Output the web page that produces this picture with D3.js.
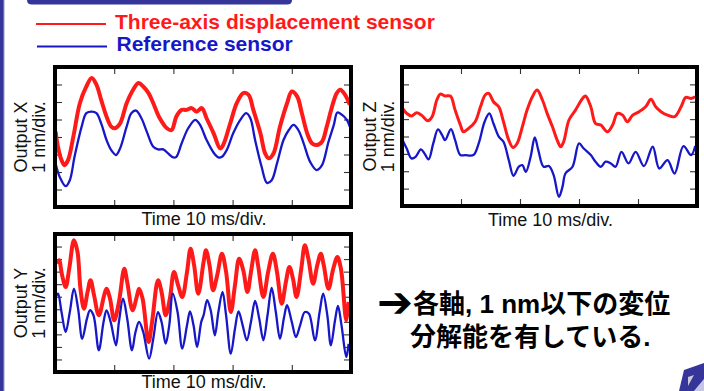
<!DOCTYPE html>
<html>
<head>
<meta charset="utf-8">
<script src="https://cdn.jsdelivr.net/npm/d3@7"></script>
<style>
  html, body { margin: 0; padding: 0; background: #fff; }
  svg { display: block; }
  .lab { font-family: "Liberation Sans", Arial, sans-serif; font-size: 18px; fill: #111; }
  .leg { font-family: "Liberation Sans", Arial, sans-serif; font-size: 21px; font-weight: bold; }
  .note { font-family: "Liberation Sans", "Noto Sans CJK JP", sans-serif; font-size: 26px; font-weight: bold; fill: #000; }
  .arrow { font-family: "DejaVu Sans", sans-serif; font-size: 43px; font-weight: bold; }
</style>
</head>
<body>
<svg id="chart" width="704" height="391"></svg>
<script>
// values: [time ms, output nm], 10 ms/div and 1 nm/div
const legendLabels = ["Three-axis displacement sensor", "Reference sensor"];
const timeLabel = "Time 10 ms/div.";
const unitLabel = "1 nm/div.";
const noteArrow = "\u2794";
const noteLines = ["各軸, 1 nm以下の変位", "分解能を有している."];

const xRed = [[0.1,4.31],[0.5,3.44],[1.1,2.68],[1.6,2.39],[2.2,2.68],[3.1,4.02],[4.2,5.93],[5.3,6.89],[6.2,7.37],[7.0,6.99],[7.8,6.12],[8.7,5.17],[9.5,4.59],[10.1,4.5],[11.0,4.78],[12.1,5.93],[13.2,6.7],[14.1,7.08],[14.9,6.89],[15.8,6.51],[16.6,5.93],[17.7,5.07],[18.9,4.5],[19.7,4.4],[20.5,5.17],[21.4,5.55],[22.2,5.55],[23.1,5.65],[23.9,5.45],[24.8,5.65],[25.6,5.07],[26.8,4.21],[27.9,3.35],[28.4,3.54],[29.6,4.78],[30.7,5.93],[31.8,6.51],[32.7,6.41],[33.5,5.55],[34.7,4.21],[35.5,3.06],[36.1,2.78],[36.9,3.06],[38.0,4.59],[39.2,5.93],[40.0,6.6],[40.9,6.32],[41.7,5.36],[42.6,4.21],[43.4,3.64],[44.2,3.54],[45.1,3.73],[45.9,4.59],[46.8,5.74],[47.6,6.51],[48.2,6.7],[49.0,6.41],[49.8,5.84]];
const xBlue = [[0.1,2.49],[0.8,1.72],[1.8,1.19],[2.5,1.53],[3.3,2.87],[4.5,4.59],[5.3,5.36],[6.2,5.45],[7.0,5.36],[7.8,4.78],[8.7,3.83],[9.5,3.25],[10.3,2.97],[11.0,3.35],[12.1,4.59],[12.9,5.36],[13.7,5.51],[14.6,5.07],[15.5,4.31],[16.6,3.44],[17.4,3.29],[18.3,3.29],[19.1,3.06],[20.0,2.83],[20.5,2.87],[21.4,3.64],[22.5,4.5],[23.7,4.98],[24.5,4.69],[25.6,3.83],[26.8,3.1],[27.6,2.83],[28.2,2.87],[29.0,3.25],[30.1,4.21],[31.3,4.98],[32.3,5.36],[33.0,5.07],[33.8,3.83],[34.9,2.3],[35.8,1.38],[36.6,1.53],[37.5,2.49],[38.6,3.83],[39.5,4.4],[40.3,4.69],[41.1,4.4],[42.0,3.64],[43.1,2.58],[44.2,2.11],[45.1,2.39],[46.2,3.73],[47.1,4.69],[47.7,5.4],[48.5,5.26],[49.3,4.98],[49.8,4.59]];

const zRed = [[0.1,5.62],[0.8,5.33],[1.6,5.18],[2.5,5.37],[3.3,5.23],[4.4,4.91],[5.1,5.14],[5.9,6.1],[6.5,6.44],[7.3,6.33],[8.2,6.33],[9.0,5.52],[9.9,4.66],[10.4,4.27],[11.3,4.47],[12.4,4.85],[13.3,5.71],[14.1,6.39],[14.7,6.48],[15.5,6.0],[16.4,5.71],[17.2,4.85],[18.1,3.79],[18.8,3.37],[19.5,3.6],[20.4,4.56],[21.2,5.52],[22.1,6.29],[22.9,6.67],[23.8,6.1],[24.6,5.33],[25.5,4.56],[26.3,3.79],[26.9,3.41],[27.4,3.7],[28.3,4.95],[29.4,5.52],[30.6,6.19],[31.1,6.33],[32.0,5.71],[32.8,4.75],[33.7,4.66],[34.8,4.27],[35.7,4.66],[36.5,5.33],[37.4,5.23],[38.2,4.85],[39.1,5.23],[40.2,5.43],[41.3,5.71],[42.2,6.14],[43.0,5.71],[43.9,5.43],[45.0,5.23],[46.2,5.14],[47.3,5.71],[48.1,6.25],[49.0,6.19],[49.7,6.29]];
const zBlue = [[0.1,3.79],[0.8,3.31],[1.6,2.74],[2.3,2.83],[3.2,3.26],[3.8,3.03],[4.5,2.68],[5.3,3.6],[6.1,4.41],[6.8,4.08],[7.3,3.79],[8.3,4.43],[9.0,3.79],[9.9,2.93],[10.7,2.93],[12.1,2.93],[13.0,3.6],[14.0,4.85],[14.8,5.33],[15.5,4.75],[16.4,3.99],[17.2,3.7],[18.1,2.64],[18.9,1.74],[19.8,2.26],[20.4,2.35],[21.0,1.97],[21.8,2.83],[22.5,3.95],[23.1,3.22],[24.0,2.26],[24.9,2.3],[25.7,1.78],[26.6,0.53],[27.2,1.1],[27.7,1.87],[28.9,2.26],[30.0,3.6],[30.8,3.31],[32.0,2.93],[32.8,2.55],[33.7,2.26],[34.5,2.55],[35.4,2.45],[36.2,2.26],[37.2,3.12],[38.4,2.45],[39.6,3.12],[41.0,2.3],[42.5,3.41],[43.6,2.16],[45.0,2.64],[46.2,1.87],[47.7,3.45],[49.0,2.93],[49.7,3.45]];

const yRed = [[0.4,8.63],[0.7,8.9],[1.2,7.71],[1.8,6.78],[2.4,8.23],[3.2,10.5],[3.8,9.57],[4.3,6.64],[4.9,5.05],[5.5,6.38],[6.0,7.31],[6.6,6.11],[7.4,4.52],[8.3,6.11],[8.7,6.64],[9.3,5.84],[10.0,4.12],[10.8,5.58],[11.7,8.23],[12.2,7.17],[13.1,4.92],[13.8,5.98],[14.2,6.64],[14.8,5.84],[15.8,2.39],[16.4,3.99],[17.4,7.31],[18.0,6.38],[18.7,4.52],[19.4,5.84],[20.1,7.97],[20.8,6.91],[21.5,5.98],[22.3,7.97],[22.9,9.83],[23.5,8.51],[24.2,6.24],[25.1,8.77],[25.5,9.7],[26.1,8.51],[26.7,6.51],[27.4,7.71],[28.2,9.43],[28.9,7.97],[29.7,4.78],[30.4,6.91],[31.1,9.03],[31.8,8.11],[32.5,6.38],[33.1,7.97],[33.8,9.7],[34.3,8.51],[35.2,5.98],[36.0,7.97],[36.8,9.43],[37.5,7.97],[38.3,5.44],[39.0,7.17],[39.6,8.37],[40.2,7.44],[40.8,5.98],[41.6,8.23],[42.2,10.1],[42.8,9.03],[43.6,7.04],[44.3,8.51],[44.9,9.43],[45.4,8.51],[46.2,6.64],[47.0,8.23],[47.7,9.17],[48.3,8.23],[49.2,4.12],[49.6,5.58]];
const yBlue = [[0.1,5.98],[0.5,6.24],[1.1,4.78],[1.8,3.19],[2.5,4.78],[3.2,6.64],[3.9,5.05],[4.6,2.65],[5.4,4.25],[5.9,4.92],[6.5,4.52],[7.4,1.73],[8.2,3.99],[8.7,4.92],[9.4,3.99],[10.3,2.13],[10.8,3.99],[11.5,5.84],[12.2,4.25],[13.0,1.73],[13.6,3.19],[14.2,3.99],[14.9,3.19],[15.9,1.06],[16.6,2.65],[17.4,4.78],[18.0,3.99],[18.7,2.26],[19.3,3.72],[19.9,6.24],[20.7,4.78],[21.5,1.86],[22.3,3.72],[22.8,4.84],[23.4,3.72],[24.0,1.99],[24.7,3.99],[25.1,4.52],[25.7,5.72],[26.3,4.92],[27.0,2.93],[27.6,4.78],[28.3,6.38],[28.9,4.52],[29.7,1.46],[30.4,3.45],[31.0,4.84],[31.7,3.72],[32.4,2.53],[33.1,3.99],[33.8,5.66],[34.5,4.25],[35.2,2.53],[35.9,4.52],[36.6,6.7],[37.3,4.78],[38.0,2.65],[38.7,4.38],[39.2,5.32],[40.0,3.99],[40.7,2.79],[41.4,3.72],[42.2,4.78],[42.9,4.65],[43.9,2.53],[44.7,4.78],[45.3,6.24],[46.0,4.52],[46.6,2.13],[47.3,4.12],[47.8,5.26],[48.4,3.72],[49.2,1.2],[49.6,2.26]];

const panels = [
  { name: "Output X", red: xRed, blue: xBlue, divs: 8, box: { l: 55, r: 351, t: 67, b: 207 }, labX: 20.5, timeY: 225 },
  { name: "Output Z", red: zRed, blue: zBlue, divs: 8, box: { l: 402, r: 697, t: 67, b: 206 }, labX: 369.5, timeY: 226 },
  { name: "Output Y", red: yRed, blue: yBlue, divs: 11, box: { l: 55, r: 351, t: 234, b: 372 }, labX: 20.5, timeY: 388 }
];

const purple = "#35359a";
const red = "#ff1a1a";
const blue = "#1717c8";

const svg = d3.select("#chart");

// slide decoration
svg.append("rect").attr("x", 0).attr("y", 0).attr("width", 4.7).attr("height", 391).attr("fill", "#b7b7dc");
svg.append("rect").attr("x", 0).attr("y", 0).attr("width", 3.6).attr("height", 391).attr("fill", purple);
svg.append("path")
  .attr("d", "M27,0 H292 V0 Q292,4.5 287,4.5 H32 Q27,4.5 27,0 Z")
  .attr("fill", purple);

// legend
const legY = [24, 46.5];
const legColors = [red, blue];
legendLabels.forEach((lab, i) => {
  svg.append("line")
    .attr("x1", 36 + i).attr("x2", 106 + i)
    .attr("y1", legY[i]).attr("y2", legY[i])
    .attr("stroke", legColors[i]).attr("stroke-width", 2);
  svg.append("text").attr("class", "leg")
    .attr("x", 115 + i * 1.5).attr("y", legY[i] + 4.5)
    .attr("fill", legColors[i])
    .text(lab);
});

panels.forEach((p, k) => {
  const b = p.box;
  const x = d3.scaleLinear().domain([0, 50]).range([b.l, b.r]);
  const y = d3.scaleLinear().domain([0, p.divs]).range([b.b, b.t]);
  const g = svg.append("g");

  g.append("clipPath").attr("id", "clip" + k)
    .append("rect").attr("x", b.l).attr("y", b.t)
    .attr("width", b.r - b.l).attr("height", b.b - b.t);

  const xt = [10, 20, 30, 40];
  const yt = d3.range(1, p.divs);
  const noLab = () => "";

  const axes = [
    [d3.axisBottom(x).tickValues(xt), `translate(0,${b.b})`],
    [d3.axisTop(x).tickValues(xt), `translate(0,${b.t})`],
    [d3.axisLeft(y).tickValues(yt), `translate(${b.l},0)`],
    [d3.axisRight(y).tickValues(yt), `translate(${b.r},0)`]
  ];
  axes.forEach(([ax, tr]) => {
    const a = g.append("g").attr("transform", tr)
      .call(ax.tickSize(-7).tickFormat(noLab));
    a.select(".domain").remove();
    a.selectAll("line").attr("stroke", "#333").attr("stroke-width", 1.1);
  });

  const line = d3.line()
    .x(d => x(d[0])).y(d => y(d[1]))
    .curve(d3.curveCatmullRom.alpha(0.5));

  const plot = g.append("g").attr("clip-path", `url(#clip${k})`);
  plot.append("path").datum(p.red)
    .attr("d", line).attr("fill", "none")
    .attr("stroke", red).attr("stroke-width", k === 1 ? 3 : 4)
    .attr("stroke-linejoin", "round");
  plot.append("path").datum(p.blue)
    .attr("d", line).attr("fill", "none")
    .attr("stroke", blue).attr("stroke-width", 2.3)
    .attr("stroke-linejoin", "round");

  g.append("rect")
    .attr("x", b.l).attr("y", b.t)
    .attr("width", b.r - b.l).attr("height", b.b - b.t)
    .attr("fill", "none").attr("stroke", "#000").attr("stroke-width", 4);

  const midY = (b.t + b.b) / 2;
  [p.name, unitLabel].forEach((s, i) => {
    const cx = p.labX + i * 18;
    g.append("text").attr("class", "lab")
      .attr("transform", `translate(${cx + 6.3},${midY}) rotate(-90)`)
      .attr("text-anchor", "middle")
      .text(s);
  });

  g.append("text").attr("class", "lab")
    .attr("x", (b.l + b.r) / 2 + 1).attr("y", p.timeY)
    .attr("text-anchor", "middle")
    .text(timeLabel);
});

// conclusion text
const noteX = [377, 410];
const noteY = [313, 346];
noteLines.forEach((s, i) => {
  const t = svg.append("text").attr("class", "note")
    .attr("x", noteX[i]).attr("y", noteY[i]);
  if (i === 0) t.append("tspan").attr("class", "arrow").attr("dy", 4).text(noteArrow);
  t.append("tspan").attr("dy", i === 0 ? -4 : 0).text(s);
});

// corner icon
svg.append("path").attr("d", "M694,391 L704,379 L704,391 Z").attr("fill", "#c5c5e8");
svg.append("path").attr("d", "M684,370 L704,363 L704,379 L694,391 L679,391 Z").attr("fill", purple);
svg.append("path").attr("d", "M688,377 L694,375 L688,386 Z").attr("fill", "#c9c9d6");
</script>
</body>
</html>
